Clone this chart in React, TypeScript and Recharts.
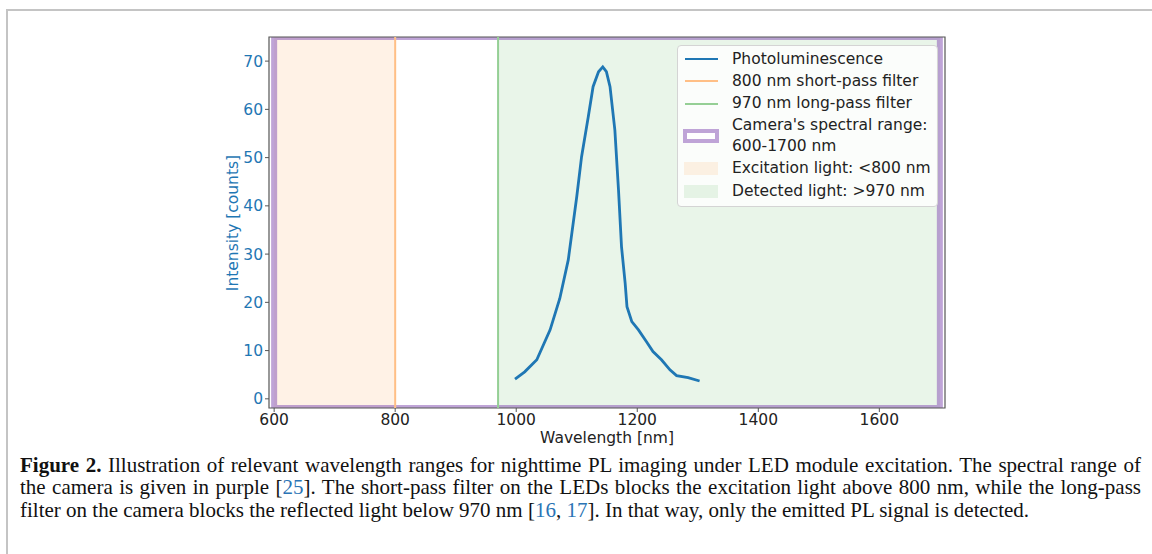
import React from 'react';
import { LineChart, Line, XAxis, YAxis, ReferenceArea, ReferenceLine } from 'recharts';

const plWavelength = [998, 1014, 1034, 1056, 1072, 1086, 1100, 1108, 1119, 1127, 1136, 1143, 1149, 1155, 1163, 1169, 1174, 1180, 1183, 1191, 1202, 1215, 1226, 1240, 1254, 1265, 1284, 1303];
const plIntensity = [4.1, 5.6, 8.1, 14.3, 20.8, 28.8, 41.9, 50.2, 58.4, 64.7, 67.8, 68.8, 67.8, 64.7, 55.7, 43.3, 31.5, 24.0, 19.1, 16.0, 14.3, 11.9, 9.8, 8.1, 6.0, 4.8, 4.4, 3.7];
const xTicks = [600, 800, 1000, 1200, 1400, 1600];
const yTicks = [0, 10, 20, 30, 40, 50, 60, 70];
const xDomain = [591.5, 1708.5];
const yDomain = [-1.9, 75];
const shortPass = 800;
const longPass = 970;
const cameraRange = [600, 1700];
const legendLabels = [
  'Photoluminescence',
  '800 nm short-pass filter',
  '970 nm long-pass filter',
  "Camera's spectral range:\n600-1700 nm",
  'Excitation light: <800 nm',
  'Detected light: >970 nm',
];

const data = plWavelength.map((w, i) => ({ w, v: plIntensity[i] }));

const FONT = '"DejaVu Sans", sans-serif';
const BLUE = '#1f77b4';
const ORANGE_L = '#ffbf86';
const GREEN_L = '#95cf95';
const SPINE = '#555';

function LegendBox() {
  const row = (sample: React.ReactNode, text: string, h: number) => (
    <div style={{ display: 'flex', alignItems: 'center', height: h }}>
      <div style={{ width: 36, display: 'flex', alignItems: 'center', justifyContent: 'center', marginRight: 13 }}>{sample}</div>
      <div style={{ whiteSpace: 'pre', lineHeight: '21px' }}>{text}</div>
    </div>
  );
  const line = (c: string, w: number) => <div style={{ width: 33, height: w, background: c }} />;
  return (
    <div
      style={{
        position: 'absolute', left: 677, top: 45, width: 249, height: 150,
        padding: '2px 5px 8px 5px',
        background: 'rgba(255,255,255,0.8)', border: '1px solid #d4d4d4', borderRadius: 4,
        fontFamily: FONT, fontSize: 15.5, color: '#222', boxSizing: 'content-box',
      }}
    >
      {row(line(BLUE, 2.8), legendLabels[0], 22)}
      {row(line(ORANGE_L, 2), legendLabels[1], 22.5)}
      {row(line(GREEN_L, 2), legendLabels[2], 22.5)}
      {row(
        <div style={{ width: 28, height: 6, border: '4px solid rgba(148,103,189,0.6)', background: '#fff' }} />,
        legendLabels[3], 42,
      )}
      {row(<div style={{ width: 34, height: 13, background: 'rgba(255,127,14,0.1)' }} />, legendLabels[4], 23)}
      {row(<div style={{ width: 34, height: 13, background: 'rgba(44,160,44,0.1)' }} />, legendLabels[5], 23)}
    </div>
  );
}

const capLine: React.CSSProperties = {
  position: 'absolute', left: 20, width: 1121, whiteSpace: 'nowrap',
  fontFamily: '"Liberation Serif", serif', fontSize: 21, lineHeight: '22.5px', color: '#111',
};
const justified: React.CSSProperties = { textAlign: 'justify', textAlignLast: 'justify', whiteSpace: 'normal' };
const ref: React.CSSProperties = { color: '#2a74b5' };

export default function App() {
  return (
    <div style={{ position: 'absolute', left: 0, top: 0, width: 1152, height: 554, background: '#fff', overflow: 'hidden' }}>
      <div style={{ position: 'absolute', left: 6, top: 9, width: 1200, height: 600, borderTop: '2px solid #c4c4c4', borderLeft: '2px solid #c4c4c4' }} />
      <div style={{ position: 'absolute', left: 0, top: 0 }}>
        <LineChart width={1152} height={450} data={data} margin={{ top: 37, right: 207, bottom: 2, left: 209 }}>
          <XAxis
            dataKey="w" type="number" domain={xDomain} ticks={xTicks} allowDataOverflow
            height={40} tickSize={4} tickMargin={2}
            axisLine={false} tickLine={{ stroke: SPINE }}
            tick={{ fill: '#222', fontSize: 15.5, fontFamily: FONT }}
            label={{ value: 'Wavelength [nm]', position: 'insideBottom', offset: 5, fill: '#222', fontSize: 15.5, fontFamily: FONT }}
          />
          <YAxis
            type="number" domain={yDomain} ticks={yTicks} allowDataOverflow
            width={60} tickSize={4} tickMargin={2}
            axisLine={false} tickLine={{ stroke: SPINE }}
            tick={{ fill: BLUE, fontSize: 15.5, fontFamily: FONT }}
          />
          <ReferenceArea x1={cameraRange[0]} x2={shortPass} y1={yDomain[0]} y2={yDomain[1]} fill="#ff7f0e" fillOpacity={0.1} stroke="none" ifOverflow="hidden" />
          <ReferenceArea x1={longPass} x2={cameraRange[1]} y1={yDomain[0]} y2={yDomain[1]} fill="#2ca02c" fillOpacity={0.1} stroke="none" ifOverflow="hidden" />
          <ReferenceArea x1={cameraRange[0]} x2={cameraRange[1]} y1={yDomain[0]} y2={yDomain[1]} fill="none" fillOpacity={0} stroke="#9467bd" strokeOpacity={0.6} strokeWidth={6} ifOverflow="hidden" />
          <ReferenceLine x={shortPass} stroke={ORANGE_L} strokeWidth={2} />
          <ReferenceLine x={longPass} stroke={GREEN_L} strokeWidth={2} />
          <Line dataKey="v" type="linear" stroke={BLUE} strokeWidth={2.8} dot={false} isAnimationActive={false} />
          <ReferenceArea x1={xDomain[0]} x2={xDomain[1]} y1={yDomain[0]} y2={yDomain[1]} fill="none" fillOpacity={0} stroke={SPINE} strokeWidth={1.2} ifOverflow="visible" />
        </LineChart>
      </div>
      <div
        style={{
          position: 'absolute', left: 233, top: 223, transform: 'translate(-50%, -50%) rotate(-90deg)',
          whiteSpace: 'nowrap', fontFamily: FONT, fontSize: 15.5, color: BLUE,
        }}
      >
        Intensity [counts]
      </div>
      <LegendBox />
      <div style={{ ...capLine, ...justified, top: 454 }}>
        <b>Figure 2.</b> Illustration of relevant wavelength ranges for nighttime PL imaging under LED module excitation. The spectral range of
      </div>
      <div style={{ ...capLine, ...justified, top: 476 }}>
        the camera is given in purple [<span style={ref}>25</span>]. The short-pass filter on the LEDs blocks the excitation light above 800 nm, while the long-pass
      </div>
      <div style={{ ...capLine, top: 499 }}>
        filter on the camera blocks the reflected light below 970 nm [<span style={ref}>16</span>, <span style={ref}>17</span>]. In that way, only the emitted PL signal is detected.
      </div>
    </div>
  );
}
